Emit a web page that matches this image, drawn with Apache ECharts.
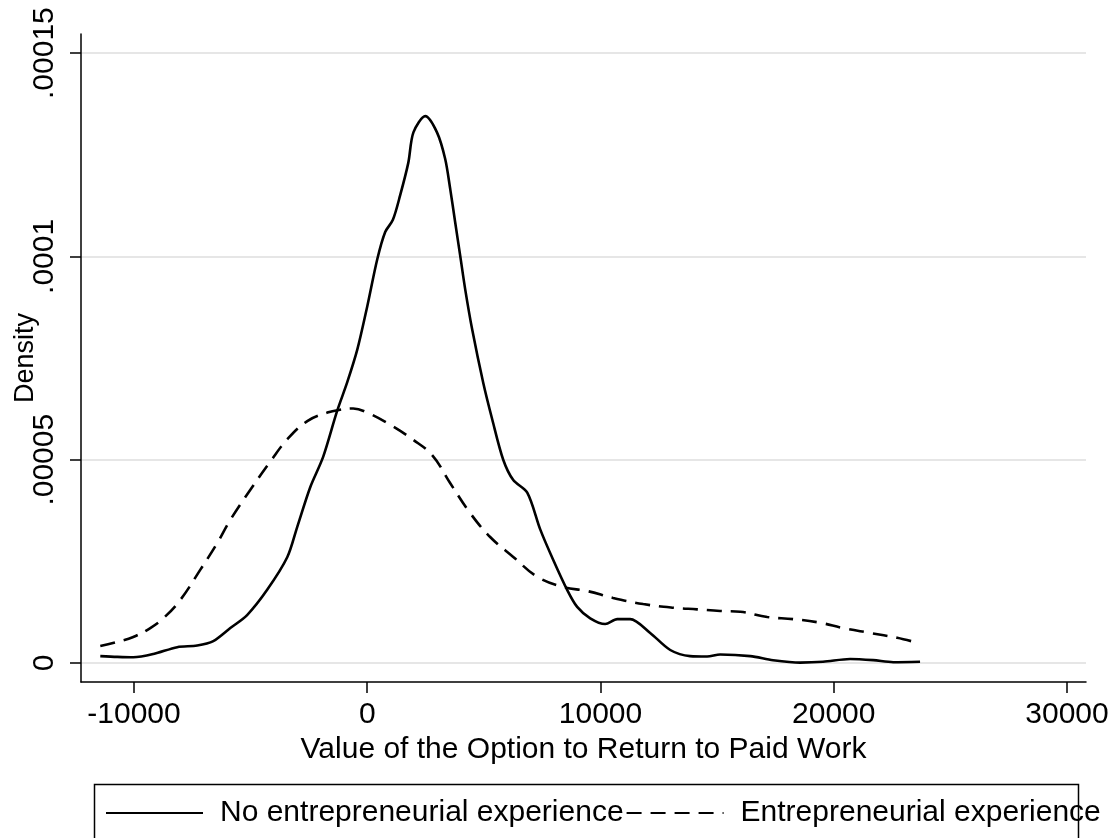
<!DOCTYPE html>
<html>
<head>
<meta charset="utf-8">
<script src="https://cdn.jsdelivr.net/npm/echarts@6/dist/echarts.min.js"></script>
<style>html,body{margin:0;padding:0;background:#fff}#c{width:1117px;height:838px}</style>
</head>
<body>
<div id="c"></div>
<script>
// Kernel density estimates
const noExpX = [-11444,-10716,-10030,-9170,-8145,-7290,-6600,-5870,-5150,-4290,-3430,-3000,-2440,-1890,-1290,-860,-430,0,430,770,1100,1410,1760,1980,2490,2990,3340,3560,3770,3990,4200,4500,4970,5360,5830,6260,6860,7420,7970,8570,9000,9560,10200,10720,11270,12130,12990,13840,14570,15130,16420,17400,18560,19540,20700,21690,22550,23700];
const noExpY = [1.7e-6,1.5e-6,1.4e-6,2.2e-6,3.9e-6,4.3e-6,5.4e-6,8.6e-6,1.18e-5,1.8e-5,2.6e-5,3.35e-5,4.33e-5,5.07e-5,6.2e-5,6.9e-5,7.7e-5,8.77e-5,9.93e-5,1.06e-4,1.09e-4,1.15e-4,1.23e-4,1.305e-4,1.345e-4,1.305e-4,1.24e-4,1.165e-4,1.084e-4,1.0e-4,9.19e-5,8.2e-5,6.9e-5,5.99e-5,5.0e-5,4.5e-5,4.19e-5,3.28e-5,2.54e-5,1.8e-5,1.38e-5,1.1e-5,9.6e-6,1.08e-5,1.08e-5,7.4e-6,3.2e-6,1.7e-6,1.6e-6,2.1e-6,1.7e-6,0.7e-6,0.1e-6,0.3e-6,1.0e-6,0.7e-6,0.2e-6,0.3e-6];
const expX = [-11444,-10716,-10030,-9300,-8740,-8015,-7160,-6430,-5870,-5010,-4160,-3430,-2570,-1710,-1160,-600,0,990,1970,2800,3560,4410,5270,6260,7290,8400,9430,10540,11830,13120,14140,15130,15990,17150,18260,19420,20400,21560,22720,23570];
const expY = [4.2e-6,5.2e-6,6.4e-6,8.6e-6,1.1e-5,1.55e-5,2.29e-5,2.95e-5,3.52e-5,4.26e-5,4.95e-5,5.5e-5,5.95e-5,6.16e-5,6.23e-5,6.26e-5,6.16e-5,5.86e-5,5.49e-5,5.1e-5,4.42e-5,3.69e-5,3.1e-5,2.61e-5,2.12e-5,1.87e-5,1.77e-5,1.6e-5,1.45e-5,1.36e-5,1.32e-5,1.28e-5,1.26e-5,1.13e-5,1.08e-5,0.99e-5,0.86e-5,0.74e-5,0.62e-5,0.5e-5];
const xTicks = [-10000, 0, 10000, 20000, 30000];
const yTicks = [0, 0.00005, 0.0001, 0.00015];
const yTickLabels = ['0', '.00005', '.0001', '.00015'];
const seriesNames = ['No entrepreneurial experience', 'Entrepreneurial experience'];
const xTitle = 'Value of the Option to Return to Paid Work';
const yTitle = 'Density';

const pair = (xs, ys) => xs.map((x, i) => [x, ys[i]]);
const FONT = 'Liberation Sans';
const chart = echarts.init(document.getElementById('c'), null, {renderer: 'canvas'});
chart.setOption({
  animation: false,
  backgroundColor: '#fff',
  grid: {left: 81, right: 31, top: 34, bottom: 156, containLabel: false, outerBoundsMode: 'none'},
  xAxis: {
    type: 'value', min: -12271, max: 30814,
    name: xTitle, nameLocation: 'middle', nameGap: 49,
    nameTextStyle: {fontFamily: FONT, fontSize: 30, color: '#000'},
    axisLine: {show: true, onZero: false, lineStyle: {color: '#000', width: 1.5}},
    axisTick: {show: true, length: 11, lineStyle: {color: '#000', width: 1.5}, customValues: xTicks},
    axisLabel: {fontFamily: FONT, fontSize: 30, color: '#000', margin: 18, customValues: xTicks, formatter: v => String(v)},
    splitLine: {show: false}
  },
  yAxis: {
    type: 'value', min: -0.00000467, max: 0.0001547,
    name: yTitle, nameLocation: 'middle', nameGap: 42, nameRotate: 90, nameMoveOverlap: false,
    nameTextStyle: {fontFamily: FONT, fontSize: 27, color: '#000'},
    axisLine: {show: true, onZero: false, lineStyle: {color: '#000', width: 1.5}},
    axisTick: {show: true, length: 11, lineStyle: {color: '#000', width: 1.5}, customValues: yTicks},
    axisLabel: {fontFamily: FONT, fontSize: 30, color: '#000', margin: 21, rotate: 90, customValues: yTicks,
      formatter: v => { const i = yTicks.findIndex(t => Math.abs(t - v) < 1e-9); return i >= 0 ? yTickLabels[i] : ''; }},
    splitLine: {show: true, lineStyle: {color: '#e6e6e6', width: 2}}
  },
  legend: {
    left: 105, top: 798, itemWidth: 97, itemHeight: 14, itemGap: 2, padding: 0,
    itemStyle: {color: 'transparent', borderColor: 'transparent', borderWidth: 0, opacity: 0},
    textStyle: {fontFamily: FONT, fontSize: 30, color: '#000', padding: [0, 0, 0, 12]},
    data: seriesNames
  },
  graphic: [{
    type: 'rect', left: 92, top: 782, silent: true,
    shape: {width: 984, height: 60},
    style: {fill: 'none', stroke: '#000', lineWidth: 1.5}
  }],
  series: [
    {name: seriesNames[0], type: 'line', data: pair(noExpX, noExpY), smooth: 0.3, symbol: 'none',
     lineStyle: {color: '#000', width: 2.6}, itemStyle: {color: '#000'}},
    {name: seriesNames[1], type: 'line', data: pair(expX, expY), smooth: 0.4, symbol: 'none',
     lineStyle: {color: '#000', width: 2.6, type: [15, 9]}, itemStyle: {color: '#000'}}
  ]
});
</script>
</body>
</html>
